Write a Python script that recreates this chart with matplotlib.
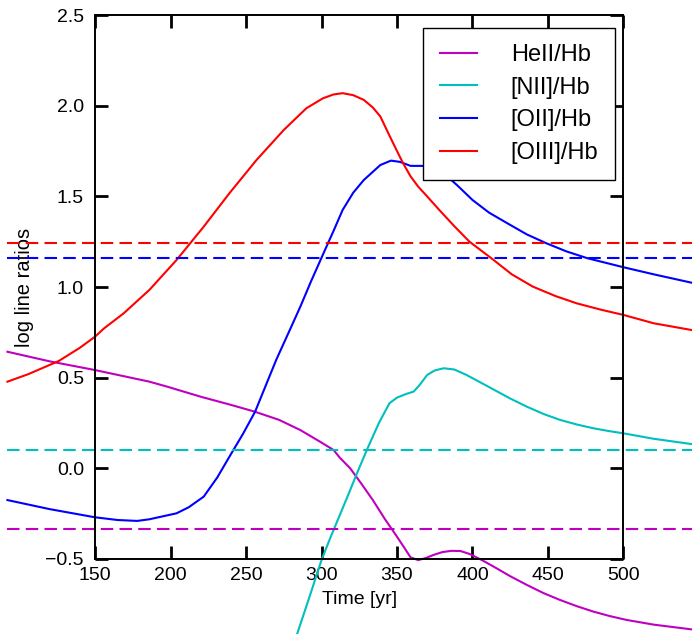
import numpy as np
import matplotlib
matplotlib.use('Agg')
import matplotlib.pyplot as plt

plt.rc('font', family=['Liberation Sans', 'DejaVu Sans'])

# evolution of the line ratios with time
t_heii = [92, 120, 150, 186, 198, 220, 240, 256, 272, 286, 299, 308, 312, 319, 326, 334, 342,
          350, 355, 359, 364, 369, 374, 380, 386, 392, 398, 406, 414, 425, 436, 447, 458,
          469, 480, 491, 502, 520, 545]
heii = [0.643, 0.59, 0.542, 0.478, 0.45, 0.395, 0.35, 0.312, 0.267, 0.211, 0.147, 0.101, 0.06,
        0.0, -0.08, -0.175, -0.28, -0.377, -0.44, -0.491, -0.506, -0.495, -0.478, -0.462,
        -0.455, -0.456, -0.472, -0.505, -0.542, -0.595, -0.643, -0.688, -0.726, -0.76,
        -0.79, -0.815, -0.836, -0.862, -0.888]

t_nii = [284, 292, 300, 306, 312, 318, 323, 330, 338, 345, 350, 356, 361, 365, 370, 375, 381,
         388, 396, 405, 415, 425, 436, 447, 458, 469, 480, 490, 500, 520, 545]
nii = [-0.91, -0.71, -0.506, -0.38, -0.26, -0.14, -0.037, 0.101, 0.25, 0.359, 0.39, 0.41,
       0.423, 0.46, 0.515, 0.54, 0.552, 0.545, 0.515, 0.475, 0.43, 0.385, 0.34, 0.30, 0.267,
       0.242, 0.221, 0.206, 0.193, 0.163, 0.134]

t_oii = [92, 120, 150, 165, 178, 186, 204, 212, 222, 231, 239, 248, 256, 270, 279, 286, 293,
         301, 308, 314, 321, 328, 339, 346, 352, 359, 367, 374, 381, 390, 400, 411, 423, 436,
         449, 462, 476, 500, 520, 545]
oii = [-0.175, -0.225, -0.27, -0.285, -0.29, -0.281, -0.248, -0.215, -0.156, -0.05, 0.064,
       0.19, 0.312, 0.598, 0.763, 0.892, 1.03, 1.18, 1.31, 1.425, 1.52, 1.59, 1.673, 1.697,
       1.69, 1.668, 1.668, 1.655, 1.627, 1.56, 1.48, 1.41, 1.352, 1.29, 1.241, 1.197, 1.159,
       1.109, 1.07, 1.024]

t_oiii = [92, 106, 126, 140, 150, 156, 169, 186, 204, 222, 239, 257, 275, 290, 301, 308, 314,
          321, 328, 334, 339, 345, 350, 354, 359, 364, 371, 378, 388, 398, 414, 426, 440, 455,
          469, 485, 500, 520, 545]
oiii = [0.478, 0.52, 0.592, 0.665, 0.726, 0.772, 0.855, 0.984, 1.149, 1.333, 1.517, 1.701,
        1.866, 1.986, 2.041, 2.062, 2.069, 2.058, 2.032, 1.99, 1.94, 1.835, 1.75, 1.683, 1.61,
        1.554, 1.49, 1.425, 1.335, 1.25, 1.149, 1.07, 1.002, 0.95, 0.91, 0.875, 0.846, 0.80,
        0.763]

# reference levels for each ratio
ref_heii = -0.336
ref_nii = 0.101
ref_oii = 1.162
ref_oiii = 1.245

names = ['HeII/Hb', '[NII]/Hb', '[OII]/Hb', '[OIII]/Hb']
colors = ['m', 'c', 'b', 'r']

fig = plt.figure(figsize=(6.92, 6.34), dpi=100)
ax = fig.add_axes([0.1373, 0.1183, 0.7637, 0.858])

series = [(t_heii, heii), (t_nii, nii), (t_oii, oii), (t_oiii, oiii)]
for (t, v), name, c in zip(series, names, colors):
    ax.plot(t, v, '-', lw=1.5, color=c, label=name, clip_on=False)

t_span = [92, 550]
for level, c in zip([ref_heii, ref_nii, ref_oii, ref_oiii], colors):
    ax.plot(t_span, [level, level], '--', lw=1.5, color=c, dashes=(6, 3),
            clip_on=False)

ax.set_xlim(150, 500)
ax.set_ylim(-0.5, 2.5)
ax.set_xticks(np.arange(150, 501, 50))
ax.set_yticks(np.arange(-0.5, 2.51, 0.5))
ax.tick_params(direction='in', length=9.5, width=2, labelsize=14,
               top=True, right=True)
ax.tick_params(axis='x', pad=6)
ax.tick_params(axis='y', pad=8)
for sp in ax.spines.values():
    sp.set_linewidth(1.4)

ax.set_xlabel('Time [yr]', fontsize=14, labelpad=5)
ax.set_ylabel('log line ratios', fontsize=14.5, labelpad=8)

leg = ax.legend(loc='upper right', bbox_to_anchor=(615 / 692, 1 - 27.5 / 634),
                bbox_transform=fig.transFigure, borderaxespad=0, fontsize=17,
                handlelength=1.57, handletextpad=1.45, labelspacing=0.45,
                borderpad=0.7, fancybox=False, framealpha=1)
leg.get_frame().set_edgecolor('k')
leg.get_frame().set_linewidth(1.0)

plt.savefig('out.png', dpi=100)
